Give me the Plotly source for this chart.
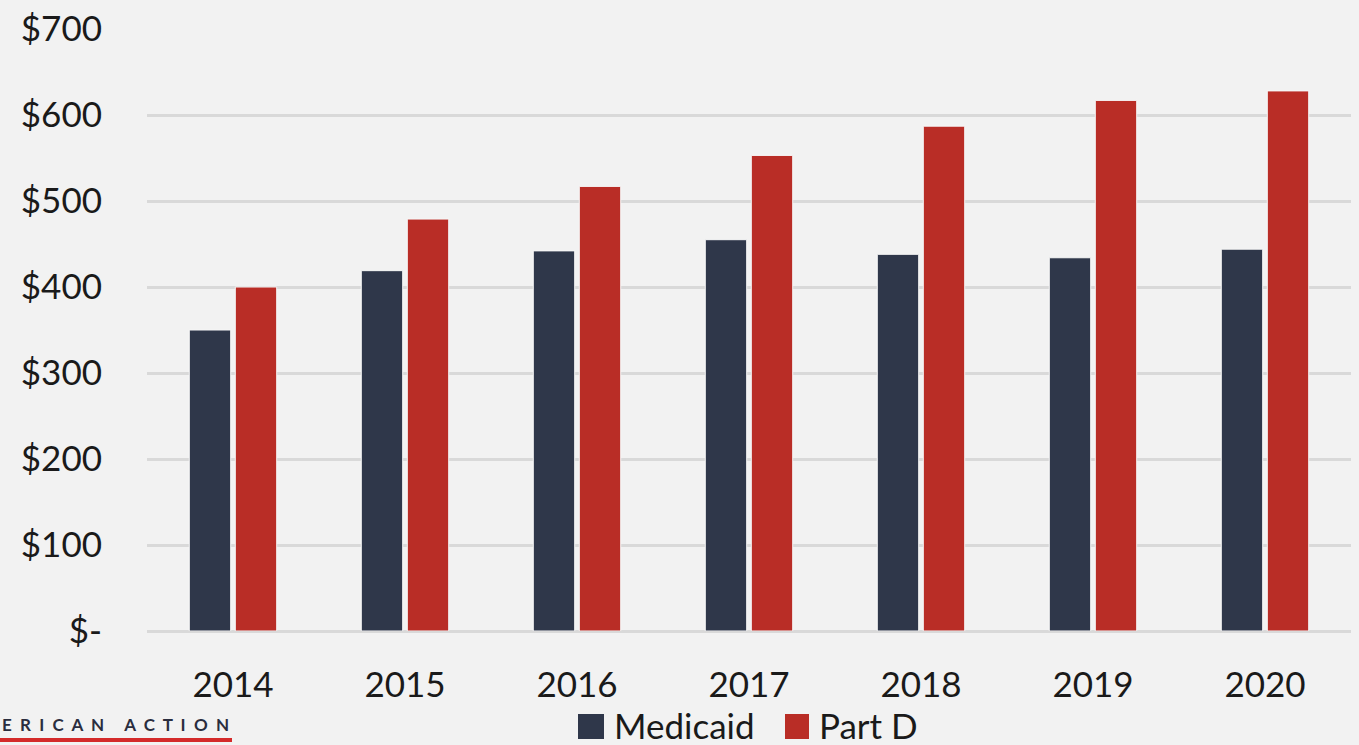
import plotly.graph_objects as go

years = ["2014", "2015", "2016", "2017", "2018", "2019", "2020"]
medicaid = [350, 419, 442, 455, 438, 434, 444]
part_d = [400, 479, 517, 553, 587, 617, 628]
tick_vals = [0, 100, 200, 300, 400, 500, 600, 700]
tick_text = ["$-", "$100", "$200", "$300", "$400", "$500", "$600", "$700"]
series_names = ["Medicaid", "Part D"]
series_colors = ["#2f374a", "#b92d26"]

W, H = 1359, 745
L, R, T, B = 147, 8, 29, 114
pw = W - L - R
ph = H - T - B

def px_x(x):
    return (x - L) / pw

def px_y(y):
    return (H - B - y) / ph

fig = go.Figure()
for name, vals, col in zip(series_names, [medicaid, part_d], series_colors):
    fig.add_bar(x=years, y=vals, name=name, showlegend=False,
                marker=dict(color=col, line=dict(color="#f7f7f7", width=1)))

font_main = "Lato, Open Sans, sans-serif"

fig.update_layout(
    width=W, height=H,
    margin=dict(l=L, r=R, t=T, b=B, autoexpand=False),
    paper_bgcolor="#f2f2f2", plot_bgcolor="#f2f2f2",
    barmode="group", bargap=0.465, bargroupgap=0.1,
    font=dict(family=font_main, color="#1a1a1a"),
    showlegend=False,
    xaxis=dict(showgrid=False, showline=False, zeroline=False,
               tickfont=dict(size=35, color="#1a1a1a"), ticklabelstandoff=30),
    yaxis=dict(range=[0, 700], tickvals=tick_vals, ticktext=tick_text,
               showgrid=True, gridcolor="#d9d9d9", gridwidth=3,
               zeroline=True, zerolinecolor="#d9d9d9", zerolinewidth=3,
               showline=False,
               tickfont=dict(size=35, color="#1a1a1a"), ticklabelstandoff=44),
)

# manual legend (larger swatches like the reference)
legend_items = [(578, 604, 612), (785, 809, 817)]
for (x0, x1, tx), name, col in zip(legend_items, series_names, series_colors):
    fig.add_shape(type="rect", xref="paper", yref="paper",
                  x0=px_x(x0), x1=px_x(x1), y0=px_y(739), y1=px_y(714),
                  fillcolor=col, line=dict(width=0))
    fig.add_annotation(xref="paper", yref="paper", x=px_x(tx), y=px_y(725),
                       xanchor="left", yanchor="middle", showarrow=False,
                       text=name, font=dict(family=font_main, size=35, color="#1a1a1a"))

logo_words = ["ERICAN", "ACTION"]
logo_text = "&nbsp;&nbsp;&nbsp;&nbsp;&nbsp;".join("&nbsp;&nbsp;".join(w) for w in logo_words)
fig.add_annotation(xref="paper", yref="paper", x=px_x(231), y=px_y(724),
                   xanchor="right", yanchor="middle", showarrow=False,
                   text="<b>" + logo_text + "</b>",
                   font=dict(family=font_main, size=17, color="#2a2d3e"))
fig.add_shape(type="line", xref="paper", yref="paper",
              x0=px_x(-5), x1=px_x(232), y0=px_y(740), y1=px_y(740),
              line=dict(color="#d42a2a", width=4))

fig.write_html("out.html", config={"displayModeBar": False},
               post_script="document.body.style.margin='0';")
